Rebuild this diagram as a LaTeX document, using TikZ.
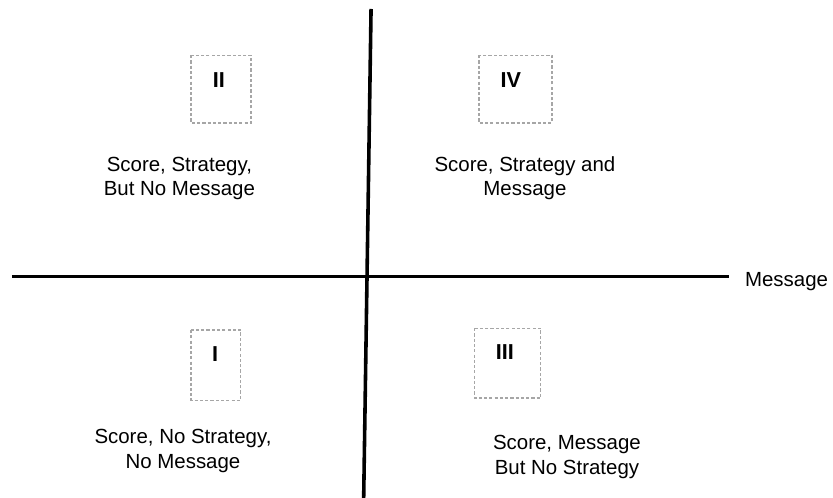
\documentclass[tikz,border=0pt]{standalone}
\usepackage{fontspec}
\setmainfont{Liberation Sans}

\tikzset{
  quadtext/.style={font=\fontsize{19.4}{23.2}\selectfont, align=center},
  numbox/.style={draw=gray!70, densely dashed, line width=1.1pt},
  numlabel/.style={font=\fontsize{20.5}{24}\selectfont\bfseries, inner sep=0pt},
  axisline/.style={line width=3.4pt}
}

\begin{document}
\begin{tikzpicture}[scale=1.0]

\useasboundingbox (0, 0) rectangle (27.77, 16.57);

% ── Axes ──
\coordinate (vtop) at (12.37, 16.27);
\coordinate (vbot) at (12.12, -0.3);
\coordinate (hleft) at (0.4, 7.35);
\coordinate (hright) at (24.3, 7.35);
\draw[axisline] (vtop) -- (vbot);
\draw[axisline] (hleft) -- (hright);
\node[quadtext, anchor=base west, inner sep=0pt] (msgaxis) at (24.83, 7.03) {Message};

% ── Numbered boxes ──
\draw[numbox] (6.37, 14.73) rectangle (8.37, 12.47);
\node[numlabel] (ntwo) at (7.3, 13.9) {II};

\draw[numbox] (15.97, 14.73) rectangle (18.4, 12.47);
\node[numlabel] (nfour) at (17.03, 13.9) {IV};

\draw[numbox] (6.37, 5.57) rectangle (8.03, 3.23);
\node[numlabel] (none) at (7.17, 4.77) {I};

\draw[numbox] (15.83, 5.63) rectangle (18.03, 3.3);
\node[numlabel] (nthree) at (16.83, 4.83) {III};

% ── Quadrant descriptions ──
\node[quadtext] (qtwo) at (5.98, 10.62) {Score, Strategy,\\But No Message};
\node[quadtext] (qfour) at (17.5, 10.62) {Score, Strategy and\\Message};
\node[quadtext] (qone) at (6.1, 1.53) {Score, No Strategy,\\No Message};
\node[quadtext] (qthree) at (18.9, 1.33) {Score, Message\\But No Strategy};

\end{tikzpicture}
\end{document}
